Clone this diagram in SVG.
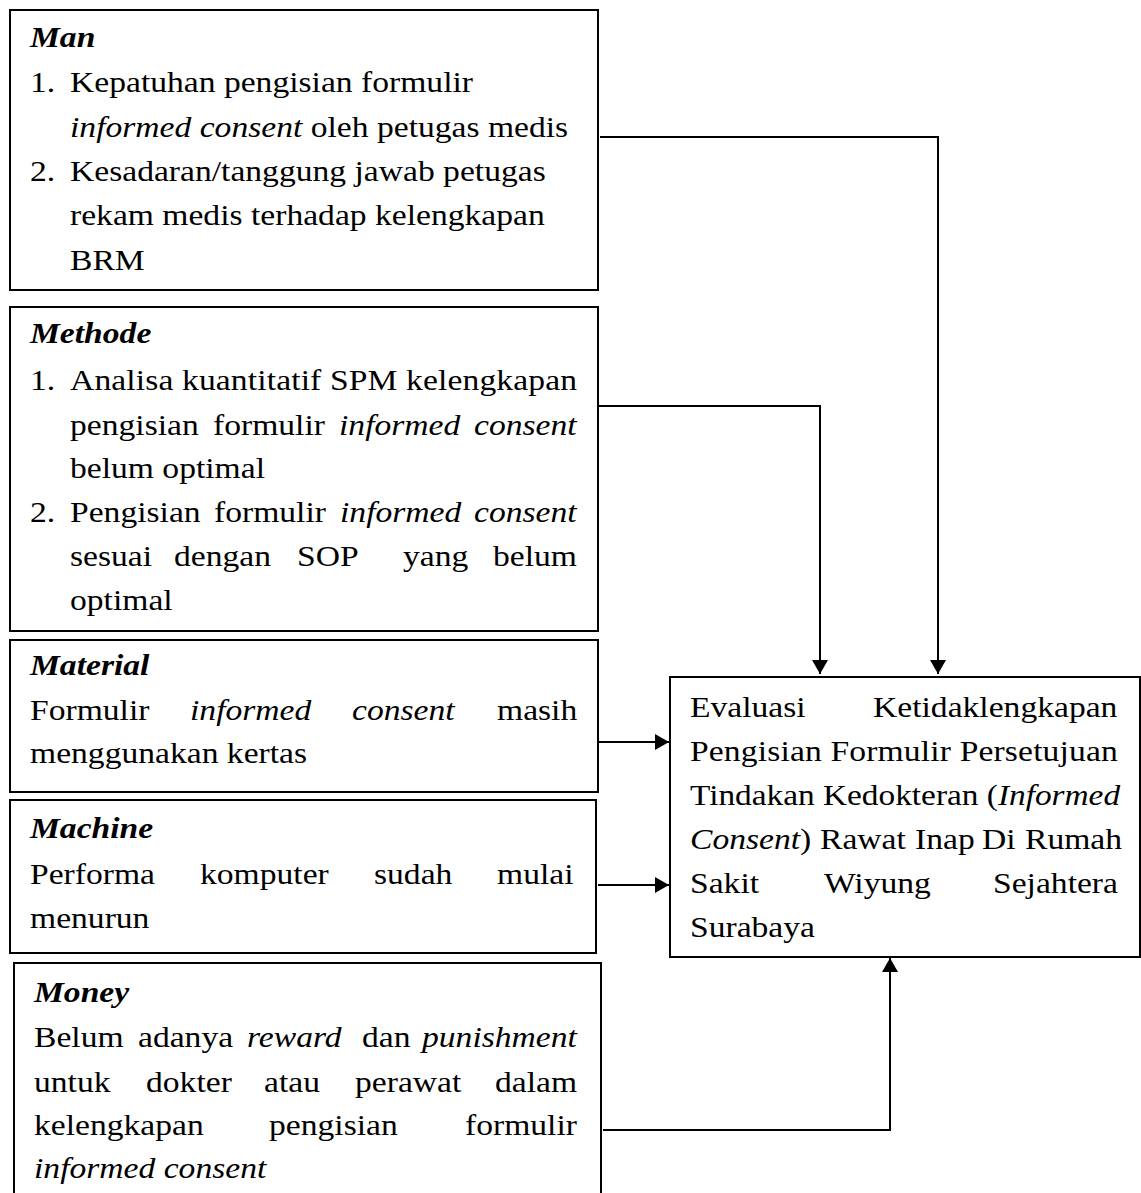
<svg xmlns="http://www.w3.org/2000/svg" width="1141" height="1193" viewBox="0 0 1141 1193">
<defs>
<style>
.box{fill:#fff;stroke:#000;stroke-width:2}
text{font-size:30px;fill:#000}
.i{font-style:italic}
.h{font-style:italic;font-weight:bold}
.c{fill:none;stroke:#000;stroke-width:2}
</style>
<marker id="ah" viewBox="0 0 14 16" refX="14" refY="8" markerWidth="14" markerHeight="16" markerUnits="userSpaceOnUse" orient="auto">
<path d="M0,0 L14,8 L0,16 Z" fill="#000"/>
</marker>
</defs>
<rect width="1141" height="1193" fill="#fff"/>

<g id="connectors">
<polyline class="c" points="600,137 938,137 938,674" marker-end="url(#ah)"/>
<polyline class="c" points="598,406 820,406 820,674" marker-end="url(#ah)"/>
<polyline class="c" points="598,742 669,742" marker-end="url(#ah)"/>
<polyline class="c" points="598,885 669,885" marker-end="url(#ah)"/>
<polyline class="c" points="603,1130 890,1130 890,958" marker-end="url(#ah)"/>
</g>

<g id="man">
<rect class="box" x="10" y="10" width="588" height="280"/>
<text font-family="Liberation Serif" class="h" transform="translate(30 47) scale(1.12 1)">Man</text>
<text font-family="Liberation Serif" transform="translate(30 92) scale(1.12 1)">1.</text>
<text font-family="Liberation Serif" transform="translate(70 92) scale(1.12 1)">Kepatuhan pengisian formulir</text>
<text font-family="Liberation Serif" transform="translate(70 137) scale(1.12 1)"><tspan class="i">informed consent</tspan> oleh petugas medis</text>
<text font-family="Liberation Serif" transform="translate(30 181) scale(1.12 1)">2.</text>
<text font-family="Liberation Serif" transform="translate(70 181) scale(1.12 1)">Kesadaran/tanggung jawab petugas</text>
<text font-family="Liberation Serif" transform="translate(70 225) scale(1.12 1)">rekam medis terhadap kelengkapan</text>
<text font-family="Liberation Serif" transform="translate(70 270) scale(1.12 1)">BRM</text>
</g>

<g id="methode">
<rect class="box" x="10" y="307" width="588" height="324"/>
<text font-family="Liberation Serif" class="h" transform="translate(30 343) scale(1.12 1)">Methode</text>
<text font-family="Liberation Serif" transform="translate(30 390) scale(1.12 1)">1.</text>
<text font-family="Liberation Serif" transform="translate(70 390) scale(1.12 1)" textLength="452.7" lengthAdjust="spacing">Analisa kuantitatif SPM kelengkapan</text>
<text font-family="Liberation Serif" transform="translate(70 435) scale(1.12 1)">pengisian</text>
<text font-family="Liberation Serif" transform="translate(213 435) scale(1.12 1)">formulir</text>
<text font-family="Liberation Serif" class="i" transform="translate(339 435) scale(1.12 1)">informed</text>
<text font-family="Liberation Serif" class="i" transform="translate(474 435) scale(1.12 1)">consent</text>
<text font-family="Liberation Serif" transform="translate(70 478) scale(1.12 1)">belum optimal</text>
<text font-family="Liberation Serif" transform="translate(30 522) scale(1.12 1)">2.</text>
<text font-family="Liberation Serif" transform="translate(70 522) scale(1.12 1)">Pengisian</text>
<text font-family="Liberation Serif" transform="translate(214 522) scale(1.12 1)">formulir</text>
<text font-family="Liberation Serif" class="i" transform="translate(340 522) scale(1.12 1)">informed</text>
<text font-family="Liberation Serif" class="i" transform="translate(474 522) scale(1.12 1)">consent</text>
<text font-family="Liberation Serif" transform="translate(70 566) scale(1.12 1)">sesuai</text>
<text font-family="Liberation Serif" transform="translate(174 566) scale(1.12 1)">dengan</text>
<text font-family="Liberation Serif" transform="translate(297 566) scale(1.12 1)">SOP</text>
<text font-family="Liberation Serif" transform="translate(403 566) scale(1.12 1)">yang</text>
<text font-family="Liberation Serif" transform="translate(493 566) scale(1.12 1)">belum</text>
<text font-family="Liberation Serif" transform="translate(70 610) scale(1.12 1)">optimal</text>
</g>

<g id="material">
<rect class="box" x="10" y="640" width="588" height="152"/>
<text font-family="Liberation Serif" class="h" transform="translate(30 675) scale(1.12 1)">Material</text>
<text font-family="Liberation Serif" transform="translate(30 720) scale(1.12 1)">Formulir</text>
<text font-family="Liberation Serif" class="i" transform="translate(190 720) scale(1.12 1)">informed</text>
<text font-family="Liberation Serif" class="i" transform="translate(352 720) scale(1.12 1)">consent</text>
<text font-family="Liberation Serif" transform="translate(497 720) scale(1.12 1)">masih</text>
<text font-family="Liberation Serif" transform="translate(30 763) scale(1.12 1)">menggunakan kertas</text>
</g>

<g id="machine">
<rect class="box" x="10" y="800" width="586" height="153"/>
<text font-family="Liberation Serif" class="h" transform="translate(30 838) scale(1.12 1)">Machine</text>
<text font-family="Liberation Serif" transform="translate(30 884) scale(1.12 1)">Performa</text>
<text font-family="Liberation Serif" transform="translate(200 884) scale(1.12 1)">komputer</text>
<text font-family="Liberation Serif" transform="translate(374 884) scale(1.12 1)">sudah</text>
<text font-family="Liberation Serif" transform="translate(497 884) scale(1.12 1)">mulai</text>
<text font-family="Liberation Serif" transform="translate(30 928) scale(1.12 1)">menurun</text>
</g>

<g id="money">
<rect class="box" x="14" y="963" width="587" height="240"/>
<text font-family="Liberation Serif" class="h" transform="translate(34 1002) scale(1.12 1)">Money</text>
<text font-family="Liberation Serif" transform="translate(34 1047) scale(1.12 1)">Belum</text>
<text font-family="Liberation Serif" transform="translate(138 1047) scale(1.12 1)">adanya</text>
<text font-family="Liberation Serif" class="i" transform="translate(247 1047) scale(1.12 1)">reward</text>
<text font-family="Liberation Serif" transform="translate(362 1047) scale(1.12 1)">dan</text>
<text font-family="Liberation Serif" class="i" transform="translate(422 1047) scale(1.12 1)">punishment</text>
<text font-family="Liberation Serif" transform="translate(34 1092) scale(1.12 1)">untuk</text>
<text font-family="Liberation Serif" transform="translate(146 1092) scale(1.12 1)">dokter</text>
<text font-family="Liberation Serif" transform="translate(264 1092) scale(1.12 1)">atau</text>
<text font-family="Liberation Serif" transform="translate(355 1092) scale(1.12 1)">perawat</text>
<text font-family="Liberation Serif" transform="translate(495 1092) scale(1.12 1)">dalam</text>
<text font-family="Liberation Serif" transform="translate(34 1135) scale(1.12 1)">kelengkapan</text>
<text font-family="Liberation Serif" transform="translate(269 1135) scale(1.12 1)">pengisian</text>
<text font-family="Liberation Serif" transform="translate(465 1135) scale(1.12 1)">formulir</text>
<text font-family="Liberation Serif" class="i" transform="translate(34 1178) scale(1.12 1)">informed consent</text>
</g>

<g id="result">
<rect class="box" x="670" y="677" width="470" height="280"/>
<text font-family="Liberation Serif" transform="translate(690 717) scale(1.12 1)">Evaluasi</text>
<text font-family="Liberation Serif" transform="translate(873 717) scale(1.12 1)">Ketidaklengkapan</text>
<text font-family="Liberation Serif" transform="translate(690 761) scale(1.12 1)" textLength="382" lengthAdjust="spacing">Pengisian Formulir Persetujuan</text>
<text font-family="Liberation Serif" transform="translate(690 805) scale(1.12 1)" textLength="384" lengthAdjust="spacingAndGlyphs">Tindakan Kedokteran (<tspan class="i">Informed</tspan></text>
<text font-family="Liberation Serif" transform="translate(690 849) scale(1.12 1)"><tspan class="i">Consent</tspan>)</text>
<text font-family="Liberation Serif" transform="translate(820 849) scale(1.12 1)">Rawat</text>
<text font-family="Liberation Serif" transform="translate(915 849) scale(1.12 1)">Inap</text>
<text font-family="Liberation Serif" transform="translate(982 849) scale(1.12 1)">Di</text>
<text font-family="Liberation Serif" transform="translate(1025 849) scale(1.12 1)">Rumah</text>
<text font-family="Liberation Serif" transform="translate(690 893) scale(1.12 1)">Sakit</text>
<text font-family="Liberation Serif" transform="translate(824 893) scale(1.12 1)">Wiyung</text>
<text font-family="Liberation Serif" transform="translate(993 893) scale(1.12 1)">Sejahtera</text>
<text font-family="Liberation Serif" transform="translate(690 937) scale(1.12 1)">Surabaya</text>
</g>
</svg>
